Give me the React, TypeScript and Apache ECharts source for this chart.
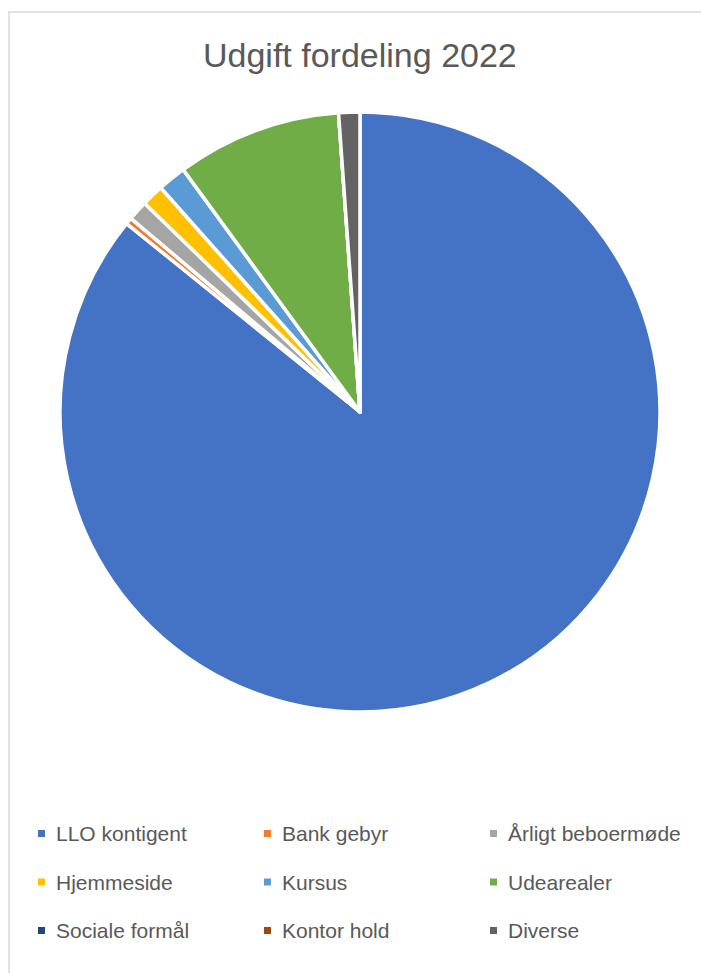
import React, { useEffect, useRef } from "react";
import * as echarts from "echarts";

const categories = [
  "LLO kontigent",
  "Bank gebyr",
  "Årligt beboermøde",
  "Hjemmeside",
  "Kursus",
  "Udearealer",
  "Sociale formål",
  "Kontor hold",
  "Diverse",
];
const values = [85.8, 0.36, 1.08, 1.19, 1.53, 8.89, 0, 0, 1.14];
const colors = [
  "#4472C4",
  "#ED7D31",
  "#A5A5A5",
  "#FFC000",
  "#5B9BD5",
  "#70AD47",
  "#264478",
  "#9E480E",
  "#636363",
];
const legendColumns = [
  ["LLO kontigent", "Hjemmeside", "Sociale formål"],
  ["Bank gebyr", "Kursus", "Kontor hold"],
  ["Årligt beboermøde", "Udearealer", "Diverse"],
];
const titleText = "Udgift fordeling 2022";

export default function App() {
  const ref = useRef<HTMLDivElement>(null);
  useEffect(() => {
    if (!ref.current) return;
    const chart = echarts.init(ref.current, null, { renderer: "svg" });
    const font = "Liberation Sans, Arial, sans-serif";
    const colLeft = [38, 264, 490];
    chart.setOption({
      animation: false,
      backgroundColor: "#ffffff",
      color: colors,
      title: {
        text: titleText,
        left: 203,
        top: 38,
        padding: 0,
        textStyle: {
          fontFamily: font,
          fontSize: 34,
          fontWeight: "normal",
          color: "#595959",
        },
      },
      legend: legendColumns.map((col, i) => ({
        data: col,
        orient: "vertical",
        left: colLeft[i],
        top: 819.5,
        padding: 0,
        itemGap: 20.5,
        itemWidth: 7,
        itemHeight: 7,
        icon: "rect",
        selectedMode: false,
        itemStyle: { borderWidth: 0 },
        textStyle: {
          fontFamily: font,
          fontSize: 21,
          lineHeight: 21,
          color: "#595959",
          padding: [7, 0, 0, 6],
        },
      })),
      graphic: [
        {
          type: "rect",
          shape: { x: 9, y: 12, width: 1000, height: 1000 },
          style: { fill: "none", stroke: "#d9d9d9", lineWidth: 1.5 },
          silent: true,
        },
      ],
      series: [
        {
          type: "pie",
          center: [360, 412],
          radius: 300,
          startAngle: 90,
          clockwise: true,
          label: { show: false },
          labelLine: { show: false },
          emphasis: { disabled: true },
          itemStyle: { borderColor: "#ffffff", borderWidth: 3.5 },
          data: categories.map((name, i) => ({
            name,
            value: values[i],
            itemStyle: { color: colors[i] },
          })),
        },
      ],
    });
    return () => chart.dispose();
  }, []);
  return (
    <div
      ref={ref}
      style={{ position: "absolute", left: 0, top: 0, width: 701, height: 973 }}
    />
  );
}
